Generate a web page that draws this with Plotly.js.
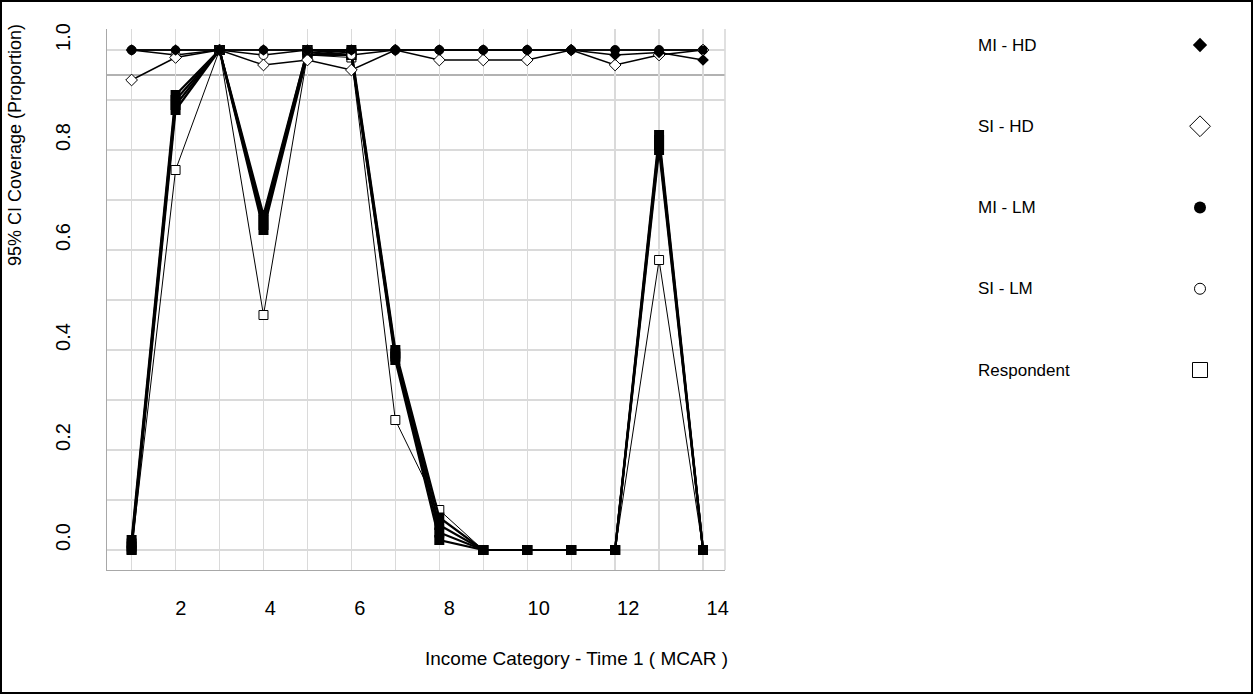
<!DOCTYPE html>
<html>
<head>
<meta charset="utf-8">
<script src="https://cdn.plot.ly/plotly-3.0.1.min.js"></script>
<style>
  html, body { margin: 0; padding: 0; background: #fff; }
  #wrap { position: relative; width: 1253px; height: 694px; }
  #chart { width: 1253px; height: 694px; }
  #frame { position: absolute; left: 0; top: 0; width: 1253px; height: 694px;
           box-sizing: border-box; border: 2px solid #000; pointer-events: none; }
</style>
</head>
<body>
<div id="wrap"><div id="chart"></div><div id="frame"></div></div>
<script>
// Income categories at Time 1 and the axis tick labels
const categories = [1, 2, 3, 4, 5, 6, 7, 8, 9, 10, 11, 12, 13, 14];
const xTickLabels = [2, 4, 6, 8, 10, 12, 14];
const yTickLabels = [0.0, 0.2, 0.4, 0.6, 0.8, 1.0];
const nominalLevel = 0.95;

// 95% CI coverage, imputation-aware intervals
const miHd = [1.00, 1.00, 1.00, 1.00, 1.00, 1.00, 1.00, 1.00, 1.00, 1.00, 1.00, 0.99, 0.995, 0.98];
const siHd = [0.94, 0.985, 1.00, 0.97, 0.98, 0.96, 1.00, 0.98, 0.98, 0.98, 1.00, 0.97, 0.99, 1.00];
const miLm = [1.00, 1.00, 1.00, 1.00, 1.00, 1.00, 1.00, 1.00, 1.00, 1.00, 1.00, 1.00, 1.00, 1.00];
const siLm = [1.00, 0.99, 1.00, 0.99, 1.00, 0.99, 1.00, 1.00, 1.00, 1.00, 1.00, 1.00, 1.00, 1.00];

// 95% CI coverage, single-sample intervals (filled squares)
const miHdNaive = [0.020, 0.910, 1.00, 0.670, 1.000, 1.000, 0.400, 0.065, 0, 0, 0, 0, 0.830, 0];
const siHdNaive = [0.013, 0.900, 1.00, 0.660, 1.000, 0.995, 0.393, 0.050, 0, 0, 0, 0, 0.820, 0];
const miLmNaive = [0.007, 0.890, 1.00, 0.650, 0.995, 0.990, 0.387, 0.035, 0, 0, 0, 0, 0.810, 0];
const siLmNaive = [0.000, 0.880, 1.00, 0.640, 0.990, 0.990, 0.380, 0.020, 0, 0, 0, 0, 0.800, 0];

// Respondent-only analysis
const respondent = [0.00, 0.76, 1.00, 0.47, 0.99, 0.985, 0.26, 0.08, 0, 0, 0, 0, 0.58, 0];

const legendNames = ['MI - HD', 'SI - HD', 'MI - LM', 'SI - LM', 'Respondent'];
const xTitle = 'Income Category - Time 1 ( MCAR )';
const yTitle = '95% CI Coverage (Proportion)';

const FONT = '"Liberation Sans", Arial, sans-serif';

// figure geometry (pixels)
const W = 1253, H = 694;
const M = { l: 107, r: 20, t: 29, b: 124 };
const plotW = W - M.l - M.r, plotH = H - M.t - M.b;
const px2paperX = p => (p - M.l) / plotW;
const px2paperY = p => (H - M.b - p) / plotH;
const mainRight = px2paperX(725);

const traces = [];

// respondent line sits underneath the filled squares
traces.push({
  x: categories, y: respondent, type: 'scatter', mode: 'lines+markers',
  name: 'Respondent', showlegend: false, cliponaxis: false,
  line: { color: '#000', width: 1 },
  marker: { symbol: 'square', size: 9, color: '#fff', line: { color: '#000', width: 1 } }
});

[miHdNaive, siHdNaive, miLmNaive, siLmNaive].forEach((ys, i) => {
  traces.push({
    x: categories, y: ys, type: 'scatter', mode: 'lines+markers',
    name: legendNames[i], showlegend: false, cliponaxis: false,
    line: { color: '#000', width: 2.2 },
    marker: { symbol: 'square', size: 10, color: '#000', line: { width: 0 } }
  });
});

const topStyles = [
  { data: siLm, name: 'SI - LM', marker: { symbol: 'circle', size: 9, color: '#fff', line: { color: '#000', width: 1 } } },
  { data: siHd, name: 'SI - HD', marker: { symbol: 'diamond', size: 9, color: '#fff', line: { color: '#000', width: 1 } } },
  { data: miLm, name: 'MI - LM', marker: { symbol: 'circle', size: 9, color: '#000', line: { width: 0 } } },
  { data: miHd, name: 'MI - HD', marker: { symbol: 'diamond', size: 9, color: '#000', line: { width: 0 } } }
];
topStyles.forEach(s => {
  traces.push({
    x: categories, y: s.data, type: 'scatter', mode: 'lines+markers',
    name: s.name, showlegend: false, cliponaxis: false,
    line: { color: '#000', width: 1.5 },
    marker: s.marker
  });
});

// empty trace so the labelled x axis is drawn
traces.push({ x: [], y: [], xaxis: 'x2', yaxis: 'y', type: 'scatter', mode: 'markers',
              showlegend: false, hoverinfo: 'skip' });

// legend keys on their own hidden axes
const legendMarkers = [
  { symbol: 'diamond', size: 11, color: '#000', line: { width: 0 } },
  { symbol: 'diamond', size: 16, color: '#fff', line: { color: '#000', width: 1 } },
  { symbol: 'circle', size: 12, color: '#000', line: { width: 0 } },
  { symbol: 'circle', size: 11, color: '#fff', line: { color: '#000', width: 1 } },
  { symbol: 'square', size: 15, color: '#fff', line: { color: '#000', width: 1 } }
];
legendNames.forEach((n, i) => {
  traces.push({
    x: [0], y: [i], xaxis: 'x3', yaxis: 'y3', type: 'scatter', mode: 'markers',
    name: n, showlegend: false, cliponaxis: false, hoverinfo: 'skip',
    marker: legendMarkers[i]
  });
});

const legendAnnotations = legendNames.map((n, i) => ({
  xref: 'paper', yref: 'y3', x: px2paperX(976), y: i, xanchor: 'left', yanchor: 'middle',
  text: n, showarrow: false, font: { family: FONT, size: 17, color: '#000' }
}));

const gridColor = '#dadada';

const layout = {
  width: W, height: H,
  margin: M,
  paper_bgcolor: '#fff', plot_bgcolor: '#fff',
  font: { family: FONT, color: '#000' },
  showlegend: false,
  xaxis: {
    domain: [0, mainRight], range: [0.44, 14.5],
    tickmode: 'linear', tick0: 1, dtick: 1,
    showticklabels: false, ticks: '',
    showgrid: true, gridcolor: gridColor, gridwidth: 1.3,
    zeroline: false, showline: true, linecolor: '#a8a8a8', linewidth: 1.3,
    automargin: false
  },
  xaxis2: {
    overlaying: 'x', anchor: 'y', side: 'bottom',
    domain: [0, mainRight], range: [0.353, 14.163],
    tickmode: 'array', tickvals: xTickLabels,
    ticks: '', showgrid: false, zeroline: false, showline: false,
    ticklabelstandoff: 24,
    tickfont: { family: FONT, size: 20, color: '#000' },
    automargin: false
  },
  yaxis: {
    domain: [0, 1], range: [-0.04, 1.042],
    tickmode: 'array', tickvals: yTickLabels, tickformat: '.1f',
    tickangle: -90, ticklabelshift: -10, ticklabelstandoff: 28,
    ticks: '',
    tickfont: { family: FONT, size: 20, color: '#000' },
    showgrid: true, gridcolor: gridColor, gridwidth: 1.3,
    minor: { tickmode: 'linear', tick0: 0, dtick: 0.1, showgrid: true, gridcolor: gridColor, gridwidth: 1.3, ticks: '' },
    zeroline: false, showline: true, linecolor: '#a8a8a8', linewidth: 1.3,
    automargin: false
  },
  xaxis3: { domain: [px2paperX(1190), px2paperX(1210)], range: [-1, 1], visible: false, fixedrange: true },
  yaxis3: { domain: [px2paperY(370), px2paperY(45)], range: [4, 0], visible: false, anchor: 'x3', fixedrange: true },
  annotations: [
    {
      xref: 'paper', yref: 'paper', x: px2paperX(15), y: px2paperY(145),
      xanchor: 'center', yanchor: 'middle', textangle: -90, showarrow: false,
      text: yTitle, font: { family: FONT, size: 18, color: '#000' }
    },
    {
      xref: 'paper', yref: 'paper', x: px2paperX(576), y: px2paperY(658),
      xanchor: 'center', yanchor: 'middle', showarrow: false,
      text: xTitle, font: { family: FONT, size: 19, color: '#000' }
    }
  ].concat(legendAnnotations),
  shapes: [
    { type: 'line', xref: 'x domain', yref: 'y', x0: 0, x1: 1, y0: nominalLevel, y1: nominalLevel,
      line: { color: '#b2b2b2', width: 2 }, layer: 'below' },
    { type: 'line', xref: 'x domain', yref: 'y domain', x0: 1, x1: 1, y0: 0, y1: 1,
      line: { color: '#d0d0d0', width: 1.3 }, layer: 'below' }
  ]
};

Plotly.newPlot('chart', traces, layout, { displayModeBar: false, staticPlot: true });
</script>
</body>
</html>
